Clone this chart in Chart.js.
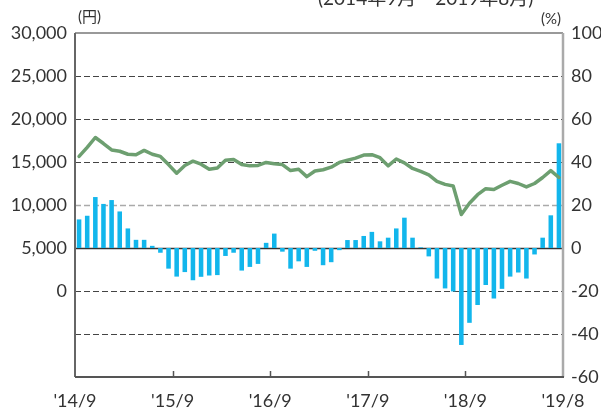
<!DOCTYPE html>
<html>
<head>
<meta charset="utf-8">
<script src="https://cdn.jsdelivr.net/npm/chart.js@4"></script>
<style>
  html, body { margin: 0; padding: 0; background: #fff; }
  #wrap { width: 601px; height: 410px; }
</style>
</head>
<body>
<div id="wrap"><canvas id="chart" width="601" height="410"></canvas></div>
<script>
// months 2014/9 .. 2019/8
const months = [
  '14/9','14/10','14/11','14/12','15/1','15/2','15/3','15/4','15/5','15/6','15/7','15/8',
  '15/9','15/10','15/11','15/12','16/1','16/2','16/3','16/4','16/5','16/6','16/7','16/8',
  '16/9','16/10','16/11','16/12','17/1','17/2','17/3','17/4','17/5','17/6','17/7','17/8',
  '17/9','17/10','17/11','17/12','18/1','18/2','18/3','18/4','18/5','18/6','18/7','18/8',
  '18/9','18/10','18/11','18/12','19/1','19/2','19/3','19/4','19/5','19/6','19/7','19/8'
];
// price (yen, left axis)
const priceYen = [
  15650, 16700, 17850, 17150, 16400, 16250, 15900, 15850, 16350, 15900, 15650, 14700,
  13700, 14600, 15100, 14750, 14150, 14300, 15200, 15300, 14700, 14550, 14600, 14950,
  14800, 14700, 14000, 14150, 13300, 13950, 14100, 14400, 14950, 15200, 15450, 15800,
  15850, 15500, 14550, 15350, 14900, 14250, 13900, 13500, 12750, 12400, 12200, 8900,
  10200, 11200, 11900, 11800, 12300, 12750, 12500, 12100, 12500, 13200, 14000, 13200
];
// change (%, right axis)
const changePct = [
  13.3, 15.0, 23.7, 20.5, 22.3, 17.0, 9.1, 3.8, 3.8, 1.0, -2.2, -9.6,
  -13.3, -11.2, -15.0, -13.4, -12.8, -12.6, -3.7, -2.2, -10.5, -8.8, -7.4, 2.4,
  6.7, -1.7, -9.6, -6.2, -8.8, -1.3, -8.0, -6.6, -1.0, 3.7, 3.7, 5.6,
  7.5, 3.1, 4.8, 9.1, 14.1, 4.8, 0.3, -3.9, -14.2, -18.8, -20.2, -45.1,
  -34.8, -26.5, -17.2, -23.5, -19.0, -13.3, -11.4, -14.2, -3.0, 4.8, 15.2, 48.7
];
// bottom tick labels, at month boundaries
const xTickPos = [0, 12, 24, 36, 48, 60];
const xTickLabels = ["'14/9", "'15/9", "'16/9", "'17/9", "'18/9", "'19/8"];

const tickFont = { family: 'Lato', size: 18 };

// hand-styled grid lines, mixed dashed/solid like the print original
const gridPlugin = {
  id: 'gridPlugin',
  beforeDatasetsDraw(chart) {
    const { ctx, chartArea: a } = chart;
    const yr = chart.scales.y1;
    const lines = [
      { v: 80, c: '#444', d: [6, 3], w: 1 },
      { v: 60, c: '#444', d: [6, 3], w: 1 },
      { v: 40, c: '#444', d: [6, 3], w: 1 },
      { v: 20, c: '#aaa', d: [6, 3], w: 1.5 },
      { v: 0, c: '#333', d: [], w: 1.3 },
      { v: -20, c: '#444', d: [6, 3], w: 1 },
      { v: -40, c: '#444', d: [6, 3], w: 1 },
    ];
    ctx.save();
    lines.forEach((l) => {
      const y = Math.round(yr.getPixelForValue(l.v)) + 0.5;
      ctx.strokeStyle = l.c;
      ctx.lineWidth = l.w;
      ctx.setLineDash(l.d);
      ctx.beginPath();
      ctx.moveTo(a.left, y);
      ctx.lineTo(a.right, y);
      ctx.stroke();
    });
    ctx.restore();
  },
  afterDraw(chart) {
    const { ctx, chartArea: a } = chart;
    const xs = chart.scales.xl;
    ctx.save();
    // frame
    ctx.setLineDash([]);
    ctx.lineWidth = 2;
    ctx.strokeStyle = '#999';
    ctx.beginPath(); ctx.moveTo(a.left, a.top); ctx.lineTo(a.right, a.top); ctx.stroke();
    ctx.strokeStyle = '#aaa';
    ctx.lineWidth = 2.5;
    ctx.beginPath(); ctx.moveTo(a.right, a.top); ctx.lineTo(a.right, a.bottom); ctx.stroke();
    ctx.strokeStyle = '#666';
    ctx.lineWidth = 2;
    ctx.beginPath(); ctx.moveTo(a.left, a.top); ctx.lineTo(a.left, a.bottom); ctx.stroke();
    ctx.strokeStyle = '#555';
    ctx.beginPath(); ctx.moveTo(a.left, a.bottom); ctx.lineTo(a.right + 1, a.bottom); ctx.stroke();
    // inward ticks on the bottom axis
    ctx.lineWidth = 1.5;
    xTickPos.slice(1, -1).forEach((v) => {
      const x = Math.round(xs.getPixelForValue(v)) + 0.5;
      ctx.beginPath(); ctx.moveTo(x, a.bottom); ctx.lineTo(x, a.bottom - 6); ctx.stroke();
    });
    // unit labels and period
    ctx.fillStyle = '#333';
    ctx.font = '15px Lato, "Noto Sans CJK JP"';
    ctx.textBaseline = 'middle';
    ctx.textAlign = 'left';
    ctx.fillText('(円)', a.left + 3, 17);
    ctx.textAlign = 'right';
    ctx.fillText('(%)', a.right - 2, 19);
    ctx.font = '19px Lato, "Noto Sans CJK JP"';
    ctx.textBaseline = 'alphabetic';
    ctx.textAlign = 'left';
    ctx.fillText('(2014年9月～2019年8月)', 318, 5);
    ctx.restore();
  },
};

const ctx = document.getElementById('chart').getContext('2d');
const chart = new Chart(ctx, {
  data: {
    labels: months,
    datasets: [
      {
        type: 'line',
        label: 'price',
        data: priceYen,
        yAxisID: 'y',
        xAxisID: 'x',
        borderColor: '#6d9f70',
        borderWidth: 3.5,
        pointRadius: 0,
        tension: 0,
        borderJoinStyle: 'round',
        borderCapStyle: 'round',
        order: 0,
      },
      {
        type: 'bar',
        label: 'change',
        data: changePct,
        yAxisID: 'y1',
        xAxisID: 'x',
        backgroundColor: '#12b6ec',
        barPercentage: 0.56,
        categoryPercentage: 1,
        order: 1,
      },
    ],
  },
  options: {
    responsive: false,
    animation: false,
    events: [],
    layout: { padding: { top: 33, left: 0, right: 0, bottom: 0 } },
    plugins: { legend: { display: false }, tooltip: { enabled: false } },
    scales: {
      x: {
        type: 'category',
        display: false,
        offset: true,
      },
      xl: {
        type: 'linear',
        position: 'bottom',
        min: 0,
        max: 60,
        afterBuildTicks: (scale) => {
          scale.ticks = xTickPos.map((v) => ({ value: v }));
        },
        afterFit: (scale) => { scale.height = 33; },
        grid: { display: false, drawTicks: false },
        border: { display: false },
        ticks: {
          autoSkip: false,
          maxRotation: 0,
          padding: 13,
          color: '#333',
          font: tickFont,
          callback: (v) => xTickLabels[xTickPos.indexOf(v)] ?? '',
        },
      },
      y: {
        type: 'linear',
        position: 'left',
        min: -10000,
        max: 30000,
        afterFit: (scale) => { scale.width = 75; },
        grid: { display: false, drawTicks: false },
        border: { display: false },
        ticks: {
          stepSize: 5000,
          padding: 8,
          color: '#333',
          font: tickFont,
          callback: (v) => (v < 0 ? '' : v.toLocaleString('en-US')),
        },
      },
      y1: {
        type: 'linear',
        position: 'right',
        min: -60,
        max: 100,
        afterFit: (scale) => { scale.width = 38; },
        grid: { display: false, drawTicks: false },
        border: { display: false },
        ticks: {
          stepSize: 20,
          padding: 8,
          color: '#333',
          font: tickFont,
        },
      },
    },
  },
  plugins: [gridPlugin],
});
</script>
</body>
</html>
